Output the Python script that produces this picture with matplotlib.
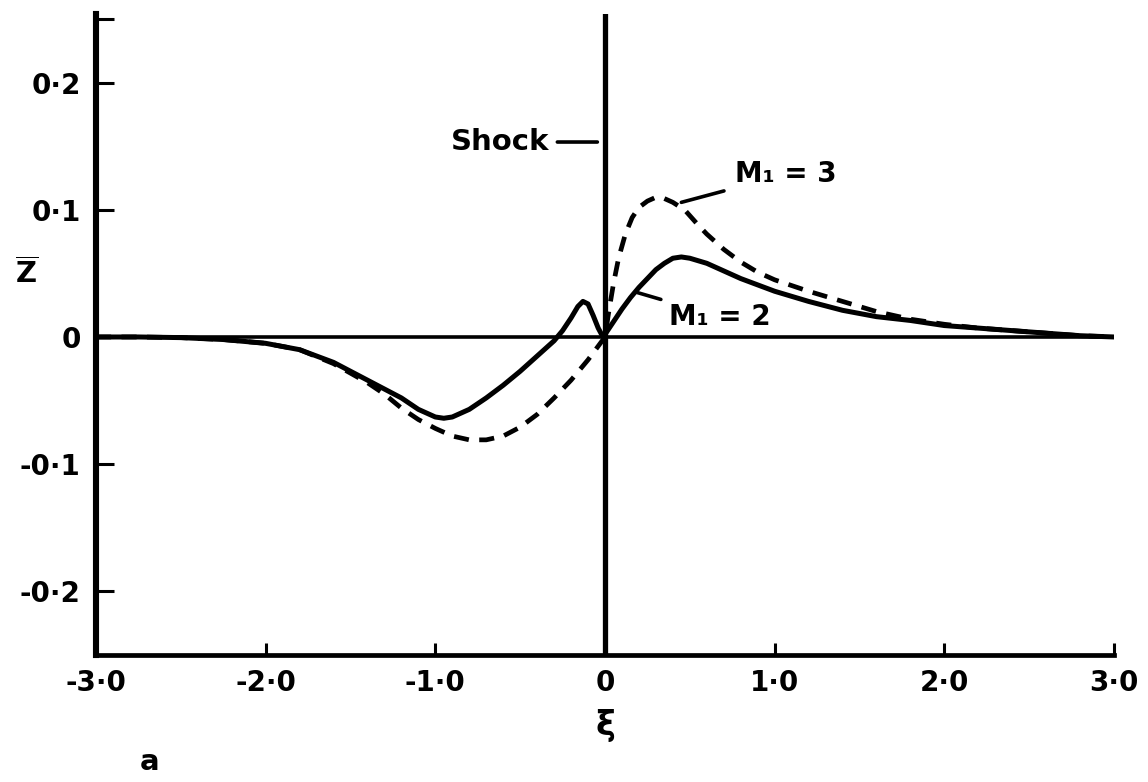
import matplotlib
matplotlib.use("Agg")
import matplotlib.pyplot as plt

# M1 = 2 (solid)
xi_m2 = [-3.0, -2.75, -2.5, -2.25, -2.0, -1.8, -1.6, -1.4, -1.3, -1.2, -1.1, -1.0, -0.95,
         -0.9, -0.8, -0.7, -0.6, -0.5, -0.4, -0.3, -0.25, -0.2, -0.16, -0.13, -0.1, -0.07,
         -0.04, -0.02, 0.0, 0.05, 0.1, 0.15, 0.2, 0.25, 0.3, 0.35, 0.4, 0.45, 0.5, 0.6,
         0.7, 0.8, 0.9, 1.0, 1.2, 1.4, 1.6, 1.8, 2.0, 2.2, 2.4, 2.6, 2.8, 3.0]
z_m2 = [0.0, 0.0, -0.0005, -0.002, -0.005, -0.010, -0.020, -0.034, -0.041, -0.048, -0.057,
        -0.063, -0.064, -0.063, -0.057, -0.048, -0.038, -0.027, -0.015, -0.003, 0.005, 0.015,
        0.024, 0.028, 0.026, 0.017, 0.007, 0.002, 0.002, 0.012, 0.022, 0.031, 0.039, 0.046,
        0.053, 0.058, 0.062, 0.063, 0.062, 0.058, 0.052, 0.046, 0.041, 0.036, 0.028, 0.021,
        0.016, 0.013, 0.009, 0.007, 0.005, 0.003, 0.001, 0.0]

# M1 = 3 (dashed)
xi_m3 = [-3.0, -2.75, -2.5, -2.25, -2.0, -1.8, -1.6, -1.4, -1.3, -1.2, -1.1, -1.0, -0.9,
         -0.8, -0.7, -0.6, -0.5, -0.4, -0.3, -0.2, -0.1, -0.05, 0.0, 0.02, 0.05, 0.08, 0.12,
         0.16, 0.2, 0.25, 0.3, 0.35, 0.4, 0.47, 0.55, 0.6, 0.7, 0.8, 0.9, 1.0, 1.2, 1.4,
         1.6, 1.8, 2.0, 2.2, 2.4, 2.6, 2.8, 3.0]
z_m3 = [0.0, 0.0, -0.0005, -0.002, -0.005, -0.010, -0.021, -0.036, -0.045, -0.056, -0.065,
        -0.072, -0.078, -0.081, -0.081, -0.078, -0.071, -0.061, -0.048, -0.034, -0.018,
        -0.009, 0.0, 0.018, 0.042, 0.062, 0.081, 0.094, 0.102, 0.107, 0.110, 0.109, 0.106,
        0.100, 0.088, 0.081, 0.069, 0.059, 0.051, 0.045, 0.036, 0.028, 0.020, 0.014, 0.010,
        0.007, 0.005, 0.003, 0.001, 0.0]

xticks = [-3, -2, -1, 0, 1, 2, 3]
xticklabels = ["-3·0", "-2·0", "-1·0", "0", "1·0", "2·0", "3·0"]
yticks = [0.25, 0.2, 0.1, 0, -0.1, -0.2]
yticklabels = ["", "0·2", "0·1", "0", "-0·1", "-0·2"]

plt.rcParams["font.family"] = ["DejaVu Sans"]
plt.rcParams["font.weight"] = "bold"
fs = 20

fig = plt.figure(figsize=(11.48, 7.82), dpi=100)
ax = fig.add_axes([96 / 1148, 1 - 655 / 782, 1018 / 1148, 641 / 782])

ax.plot(xi_m2, z_m2, color="black", lw=3.6, solid_capstyle="round")
ax.plot(xi_m3, z_m3, color="black", lw=3.4, linestyle=(0, (3.2, 2.2)))

ax.axhline(0, color="black", lw=2.6)
ax.axvline(0, color="black", lw=3.8)

ax.set_xlim(-3, 3)
ax.set_ylim(-0.2504, 0.2543)

for s in ["top", "right"]:
    ax.spines[s].set_visible(False)
ax.spines["left"].set_linewidth(4.4)
ax.spines["bottom"].set_linewidth(3.4)

ax.set_xticks(xticks)
ax.set_xticklabels(xticklabels, fontsize=fs, fontweight="bold")
ax.set_yticks(yticks)
ax.set_yticklabels(yticklabels, fontsize=fs, fontweight="bold")
ax.tick_params(axis="x", direction="in", length=9, width=2.2, pad=10)
ax.tick_params(axis="y", direction="in", length=13, width=2.2, pad=11)

ax.set_ylabel(r"$\overline{\mathbf{Z}}$", rotation=0, fontsize=fs + 1)
ax.yaxis.set_label_coords(-0.068, 0.57)
ax.set_xlabel("ξ", fontsize=fs + 4, fontweight="bold")
ax.xaxis.set_label_coords(0.5, -0.085)

# annotations
ax.annotate("Shock", xy=(-0.045, 0.1535), xytext=(-0.33, 0.1535),
            fontsize=fs + 1, fontweight="bold", ha="right", va="center",
            arrowprops=dict(arrowstyle="-", lw=2.6, color="black",
                            shrinkA=4, shrinkB=0))
ax.annotate("M₁ = 3", xy=(0.45, 0.106), xytext=(0.765, 0.128),
            fontsize=fs, fontweight="bold", ha="left", va="center",
            arrowprops=dict(arrowstyle="-", lw=2.6, color="black",
                            shrinkA=6, shrinkB=0))
ax.annotate("M₁ = 2", xy=(0.19, 0.035), xytext=(0.377, 0.016),
            fontsize=fs, fontweight="bold", ha="left", va="center",
            arrowprops=dict(arrowstyle="-", lw=2.6, color="black",
                            shrinkA=4, shrinkB=0))

fig.text(150 / 1148, 1 - 762 / 782, "a", fontsize=fs + 1, fontweight="bold",
         ha="center", va="center")

fig.savefig("out.png", dpi=100)
